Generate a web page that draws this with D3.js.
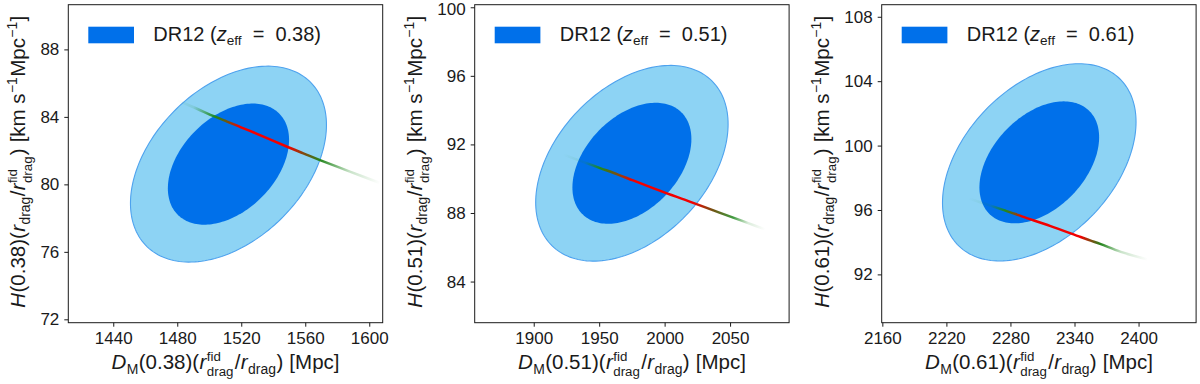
<!DOCTYPE html>
<html><head><meta charset="utf-8">
<script src="https://cdn.jsdelivr.net/npm/d3@7"></script>
<style>
body{margin:0;background:#fff}
svg{display:block}
text{font-family:"Liberation Sans",Arial,sans-serif;fill:#1a1a1a;white-space:pre}
</style>
</head><body><svg id="c" width="1200" height="384"></svg>
<script>
// ---------------- data ----------------
const zLabels = ["0.38", "0.51", "0.61"];
const dmCenter = [1512, 1975, 2307];
const hCenter = [81.2, 90.9, 98.96];
const dmSigma = [25, 30, 37];
const hSigma = [2.37, 2.33, 2.5];
const rhoDMH = [0.40, 0.40, 0.41];
const xDomains = [[1411.9, 1608.4], [1854.9, 2095.1], [2159.4, 2453.9]];
const yDomains = [[71.8, 90.65], [81.6, 100.15], [89.0, 108.75]];
const xTicks = [[1440, 1480, 1520, 1560, 1600], [1900, 1950, 2000, 2050], [2160, 2220, 2280, 2340, 2400]];
const yTicks = [[72, 76, 80, 84, 88], [84, 88, 92, 96, 100], [92, 96, 100, 104, 108]];
const confK = [2.45, 1.515]; // 95% and 68% 2D contour radii

// model curves: DM, H, relative likelihood weight
const curveDM1 = [1479.8, 1490.2, 1503.6, 1511.1, 1519.2, 1527.5, 1549.4, 1558.8, 1569.2, 1587.9, 1606.7];
const curveH1  = [84.99, 84.57, 84.01, 83.72, 83.41, 83.09, 82.20, 81.84, 81.44, 80.76, 80.08];
const curveW1  = [0.0, 0.1, 0.33, 0.55, 0.9, 1.0, 1.0, 0.6, 0.35, 0.15, 0.0];
const curveDM2 = [1922.6, 1939.2, 1950.7, 1964.4, 1975.9, 1999.8, 2021.8, 2037.3, 2052.4, 2063.8, 2076.8];
const curveH2  = [91.41, 90.94, 90.62, 90.24, 89.90, 89.20, 88.59, 88.15, 87.73, 87.41, 87.04];
const curveW2  = [0.0, 0.1, 0.33, 0.6, 0.9, 1.0, 1.0, 0.55, 0.3, 0.12, 0.0];
const curveDM3 = [2240.8, 2261.2, 2275.3, 2284.7, 2291.3, 2317.6, 2345.8, 2355.2, 2364.6, 2383.4, 2408.4];
const curveH3  = [96.72, 96.27, 95.96, 95.75, 95.59, 95.00, 94.32, 94.10, 93.88, 93.40, 92.93];
const curveW3  = [0.0, 0.1, 0.33, 0.6, 0.9, 1.0, 1.0, 0.6, 0.35, 0.15, 0.0];
const curvesDM = [curveDM1, curveDM2, curveDM3];
const curvesH = [curveH1, curveH2, curveH3];
const curvesW = [curveW1, curveW2, curveW3];

// ---------------- layout / style ----------------
const panelLeft = [68.3, 474.7, 881.7];
const panelTop = 4.7, panelW = 314.4, panelH = 318;
const innerColor = "#0070ea", outerColor = "#8dd3f4", outerEdge = "#4ea2ee";
const tickFont = 17, labelFont = 20.5, legendFont = 20;
const xLabelWidth = 228, yLabelWidth = 292;

const svg = d3.select("#c");
svg.append("rect").attr("width", 1200).attr("height", 384).attr("fill", "#fff");

function rich(parent, segs, size, target) {
  const g = parent.append("g");
  const items = [];
  let x = 0;
  segs.forEach(s => {
    const grp = g.append("g");
    let w;
    if (s.stack) {
      const fs = size * 0.65;
      const a = grp.append("text").attr("y", -size * 0.4).attr("font-size", fs).text(s.stack[0]);
      const b = grp.append("text").attr("y", size * 0.33).attr("font-size", fs).text(s.stack[1]);
      w = Math.max(a.node().getComputedTextLength(), b.node().getComputedTextLength()) + size * 0.04;
    } else {
      const fs = s.pos ? size * 0.68 : size;
      const y = s.pos === "sub" ? size * 0.24 : s.pos === "sup" ? -size * 0.4 : 0;
      const t = grp.append("text").attr("y", y).attr("font-size", fs)
        .attr("font-style", s.i ? "italic" : null).text(s.t);
      w = t.node().getComputedTextLength();
    }
    items.push({ grp, x, w });
    x += w;
  });
  const gap = target && items.length > 1 ? Math.max(0, (target - x) / (items.length - 1)) : 0;
  items.forEach((it, k) => it.grp.attr("transform", `translate(${it.x + k * gap},0)`));
  return { g, width: x + gap * (items.length - 1) };
}

const defs = svg.append("defs");
const green = d3.rgb("#1f8a1f"), red = d3.rgb("#f20000");
function wColor(w) {
  const t = Math.max(0, Math.min(1, (w - 0.33) / 0.57));
  return d3.interpolateRgb(green, red)(t);
}
function wOpacity(w) { return Math.pow(Math.min(1, w / 0.33), 1.8); }

zLabels.forEach((z, i) => {
  const x = d3.scaleLinear().domain(xDomains[i]).range([panelLeft[i], panelLeft[i] + panelW]);
  const y = d3.scaleLinear().domain(yDomains[i]).range([panelTop + panelH, panelTop]);
  const g = svg.append("g");

  // contours
  const angles = d3.range(0, 361, 2).map(a => a * Math.PI / 180);
  const rho = rhoDMH[i];
  const ell = k => angles.map(t => [
    dmCenter[i] + k * dmSigma[i] * Math.cos(t),
    hCenter[i] + k * hSigma[i] * (rho * Math.cos(t) + Math.sqrt(1 - rho * rho) * Math.sin(t))
  ]);
  const line = d3.line().x(d => x(d[0])).y(d => y(d[1])).curve(d3.curveLinearClosed);
  g.append("path").attr("d", line(ell(confK[0]))).attr("fill", outerColor).attr("stroke", outerEdge).attr("stroke-width", 1.1);
  g.append("path").attr("d", line(ell(confK[1]))).attr("fill", innerColor).attr("stroke", "none");

  // model curve with gradient
  const pts = curvesDM[i].map((d, j) => [x(d), y(curvesH[i][j]), curvesW[i][j]]);
  const p0 = pts[0], p1 = pts[pts.length - 1];
  const dx = p1[0] - p0[0], dy = p1[1] - p0[1], L2 = dx * dx + dy * dy;
  const grad = defs.append("linearGradient").attr("id", "lg" + i).attr("gradientUnits", "userSpaceOnUse")
    .attr("x1", p0[0]).attr("y1", p0[1]).attr("x2", p1[0]).attr("y2", p1[1]);
  pts.forEach(p => {
    const off = ((p[0] - p0[0]) * dx + (p[1] - p0[1]) * dy) / L2;
    grad.append("stop").attr("offset", off).attr("stop-color", wColor(p[2])).attr("stop-opacity", wOpacity(p[2]));
  });
  g.append("path").attr("d", d3.line().curve(d3.curveCatmullRom)(pts.map(p => [p[0], p[1]])))
    .attr("fill", "none").attr("stroke", `url(#lg${i})`).attr("stroke-width", 2.5);

  // frame
  g.append("rect").attr("x", panelLeft[i]).attr("y", panelTop).attr("width", panelW).attr("height", panelH)
    .attr("fill", "none").attr("stroke", "#1a1a1a").attr("stroke-width", 1);

  // axes
  const ax = g.append("g").attr("transform", `translate(0,${panelTop + panelH})`)
    .call(d3.axisBottom(x).tickValues(xTicks[i]).tickSize(4).tickPadding(5).tickSizeOuter(0).tickFormat(d3.format("d")));
  const ay = g.append("g").attr("transform", `translate(${panelLeft[i]},0)`)
    .call(d3.axisLeft(y).tickValues(yTicks[i]).tickSize(4).tickPadding(5).tickSizeOuter(0).tickFormat(d3.format("d")));
  [ax, ay].forEach(a => {
    a.select(".domain").remove();
    a.selectAll("line").attr("stroke", "#1a1a1a").attr("stroke-width", 1);
    a.selectAll("text").attr("font-size", tickFont).attr("fill", "#1a1a1a")
      .style("font-family", '"Liberation Sans",Arial,sans-serif');
  });
  ax.selectAll("text").attr("dy", null).attr("y", 21.3);
  ay.selectAll("text").filter(d => y(d) < 9).attr("dy", "0.42em");

  // x label
  const xl = rich(g, [
    { t: "D", i: 1 }, { t: "M", pos: "sub" }, { t: `(${z})(` }, { t: "r", i: 1 }, { stack: ["fid", "drag"] },
    { t: "/" }, { t: "r", i: 1 }, { t: "drag", pos: "sub" }, { t: ")" }, { t: " [Mpc]" }
  ], labelFont, xLabelWidth);
  xl.g.attr("transform", `translate(${panelLeft[i] + panelW / 2 - xl.width / 2},369)`);

  // y label
  const minX = d3.min(ay.selectAll("text").nodes(), n => n.getBBox().x) + panelLeft[i];
  const yl = rich(g, [
    { t: "H", i: 1 }, { t: `(${z})(` }, { t: "r", i: 1 }, { t: "drag", pos: "sub" }, { t: "/" },
    { t: "r", i: 1 }, { stack: ["fid", "drag"] }, { t: ")" }, { t: " [km s" }, { t: "−1", pos: "sup" }, { t: "Mpc" },
    { t: "−1", pos: "sup" }, { t: "]" }
  ], labelFont, yLabelWidth);
  yl.g.attr("transform", `translate(${minX - 15},${panelTop + panelH / 2 - 2}) rotate(-90) translate(${-yl.width / 2},0)`);

  // legend
  g.append("rect").attr("x", panelLeft[i] + 20).attr("y", 26.7).attr("width", 45.7).attr("height", 16.6)
    .attr("fill", innerColor);
  const lg = rich(g, [{ t: "DR12 (" }, { t: "z", i: 1 }, { t: "eff", pos: "sub" }, { t: "  =  " + z + ")" }], legendFont);
  lg.g.attr("transform", `translate(${panelLeft[i] + 85},40.5)`);
});
</script></body></html>
